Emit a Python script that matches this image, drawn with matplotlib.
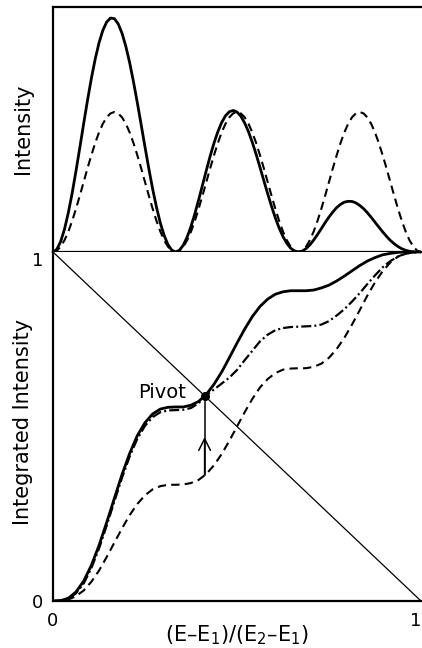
import numpy as np
import matplotlib
matplotlib.use("Agg")
from matplotlib import pyplot as plt

plt.rcParams['font.family'] = ['DejaVu Sans']
plt.rcParams['mathtext.fontset'] = 'dejavusans'

# top panel: spectra read at every 1/96 of (E-E1)/(E2-E1), dashed peak height = 1
x_top = np.linspace(0, 1, 97)
intensity_solid = [
    0, .019, .075, .163, .281, .421, .579, .746, .917, 1.083, 1.239, 1.377, 1.494, 1.583, 1.643, 1.671,
    1.667, 1.630, 1.563, 1.469, 1.352, 1.215, 1.066, .909, .750, .595, .450, .319, .207, .118, .052, .013, 0,
    .013, .049, .107, .183, .273, .373, .478, .583, .685, .778, .859, .925, .973, 1.002, 1.011,
    1.0, .970, .922, .859, .783, .697, .605, .510, .417, .327, .244, .171, .110, .062, .027, .007, 0,
    .006, .024, .051, .085, .125, .167, .210, .250, .286, .317, .340, .356, .362, .361, .351,
    .333, .310, .281, .248, .213, .178, .144, .112, .083, .059, .039, .023, .012, .005, .002, 0, 0]
intensity_dashed = [
    0, .010, .038, .084, .146, .222, .309, .403, .5, .598, .691, .778, .854, .916, .962, .990,
    1, .990, .962, .916, .854, .778, .691, .598, .5, .403, .309, .222, .146, .084, .038, .010, 0,
    .010, .038, .084, .146, .222, .309, .403, .5, .598, .691, .778, .854, .916, .962, .990,
    1, .990, .962, .916, .854, .778, .691, .598, .5, .403, .309, .222, .146, .084, .038, .010, 0,
    .010, .038, .084, .146, .222, .309, .403, .5, .598, .691, .778, .854, .916, .962, .990,
    1, .990, .962, .916, .854, .778, .691, .598, .5, .403, .309, .222, .146, .084, .038, .010, 0]

# bottom panel: integrated intensities read at every 1/48
x_bot = np.linspace(0, 1, 49)
integ_solid = [
    0, .001, .008, .026, .057, .102, .159, .225, .294, .362, .423, .474, .511, .536, .550, .555, .556,
    .556, .561, .572, .592, .621, .656, .697, .739, .779, .815, .844, .865, .879, .886, .889, .889,
    .889, .891, .897, .905, .917, .931, .946, .961, .974, .984, .992, .996, .999, 1.0, 1.0, 1.0]
integ_dashdot = [
    0, .001, .006, .022, .050, .094, .150, .216, .285, .353, .414, .465, .502, .527, .541, .546, .547,
    .548, .553, .567, .590, .606, .623, .640, .662, .690, .717, .744, .763, .776, .782, .785, .786,
    .787, .788, .792, .802, .818, .836, .858, .882, .908, .933, .956, .974, .987, .995, .999, 1.0]
integ_dashed = [
    0, .001, .004, .014, .030, .055, .087, .126, .167, .208, .246, .278, .303, .320, .329, .333, .333,
    .334, .338, .347, .364, .389, .421, .459, .500, .541, .579, .612, .636, .653, .663, .666, .667,
    .667, .671, .680, .697, .722, .754, .792, .833, .875, .913, .945, .970, .987, .996, .999, 1.0]

pivot_x, pivot_y = 0.412, 0.588
arrow_base_y, arrow_tip_y = 0.362, 0.470

DASHED = (0, (4, 2.5))
DASHDOT = (0, (4.5, 1.4, 0.9, 1.4))

fig = plt.figure(figsize=(4.22, 6.48), dpi=100)
W, H = 422, 648
ax_top = fig.add_axes([53 / W, 396 / H, 368 / W, 245 / H])
ax_bot = fig.add_axes([53 / W, 47 / H, 368 / W, 349 / H])

# ── top: intensity ─────────────────────────────────────────────
ax_top.plot(x_top, intensity_solid, color='k', lw=2.0)
ax_top.plot(x_top, intensity_dashed, color='k', lw=1.5, ls=DASHED)
ax_top.set_xlim(0, 1)
ax_top.set_ylim(0, 1.75)
ax_top.set_xticks([])
ax_top.set_yticks([])
ax_top.spines['right'].set_visible(False)
for s in ('top', 'left', 'bottom'):
    ax_top.spines[s].set_linewidth(1.6)

# ── bottom: integrated intensity ───────────────────────────────
ax_bot.plot([0, 1], [1, 0], color='k', lw=0.9)
ax_bot.plot(x_bot, integ_dashed, color='k', lw=1.5, ls=DASHED)
ax_bot.plot(x_bot, integ_dashdot, color='k', lw=1.6, ls=DASHDOT)
ax_bot.plot(x_bot, integ_solid, color='k', lw=2.0)

ax_bot.plot([pivot_x, pivot_x], [arrow_base_y, pivot_y], color='k', lw=1.1)
ax_bot.annotate('', xy=(pivot_x, arrow_tip_y), xytext=(pivot_x, arrow_base_y),
                arrowprops=dict(arrowstyle='->,head_length=0.6,head_width=0.3',
                                lw=1.1, color='k', mutation_scale=14,
                                shrinkA=0, shrinkB=0))
ax_bot.plot(pivot_x, pivot_y, 'o', color='k', ms=5.5)
ax_bot.text(pivot_x - 0.05, pivot_y + 0.008, 'Pivot', ha='right', va='center',
            fontsize=14)

ax_bot.set_xlim(0, 1)
ax_bot.set_ylim(0, 1)
ax_bot.spines['right'].set_visible(False)
ax_bot.spines['top'].set_visible(False)
for s in ('left', 'bottom'):
    ax_bot.spines[s].set_linewidth(1.6)
ax_bot.set_xticks([0, 1], ['0', '1'])
ax_bot.set_yticks([0, 1], ['0', '1'])
ax_bot.tick_params(axis='both', length=0, labelsize=13)
ax_bot.tick_params(axis='x', pad=8)
ax_bot.tick_params(axis='y', pad=7)
ax_bot.get_yticklabels()[1].set_va('top')
ax_bot.get_xticklabels()[1].set_ha('right')

fig.text(23 / W, 1 - 129 / H, 'Intensity', rotation=90,
         ha='center', va='center', fontsize=15)
fig.text(23 / W, 1 - 422 / H, 'Integrated Intensity', rotation=90,
         ha='center', va='center', fontsize=15)
fig.text(237 / W, 1 - 635 / H, '(E–E$_1$)/(E$_2$–E$_1$)',
         ha='center', va='center', fontsize=15)

fig.savefig('out.png', dpi=100)
